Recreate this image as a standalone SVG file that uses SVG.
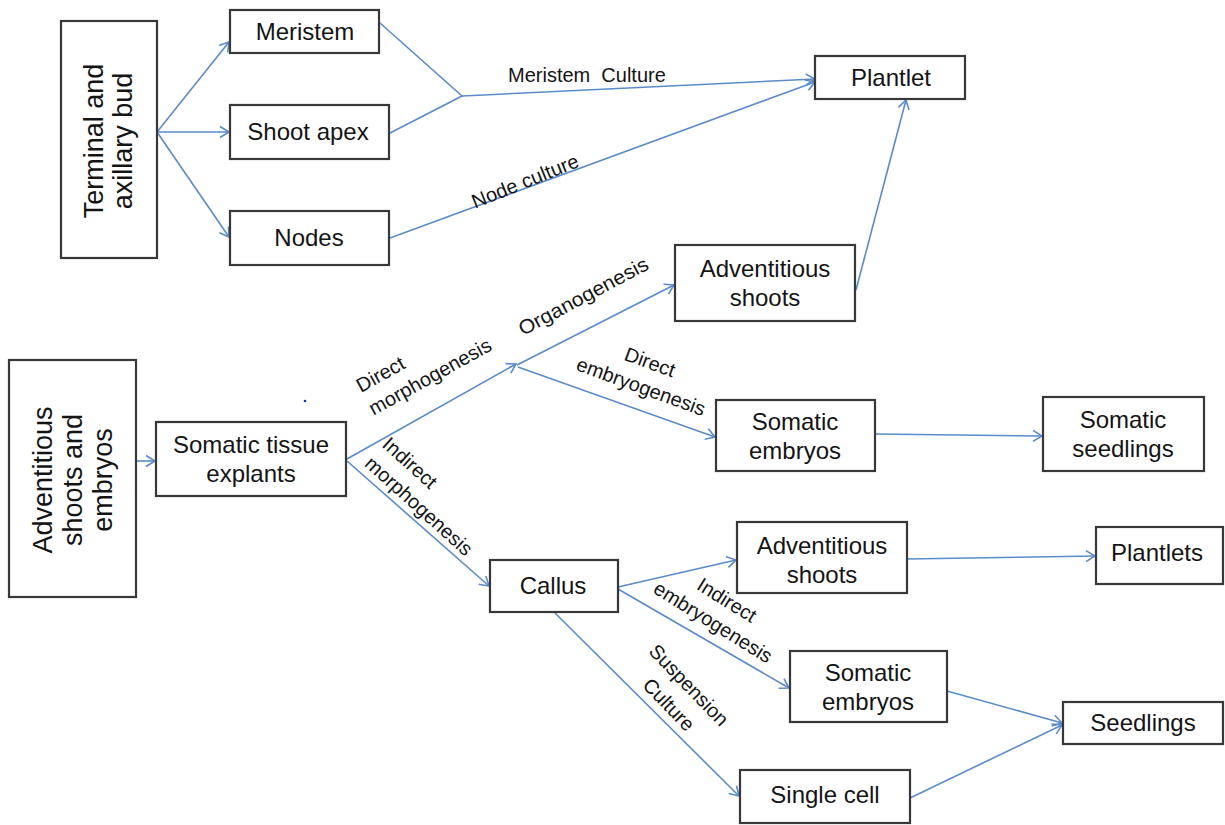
<svg xmlns="http://www.w3.org/2000/svg" width="1225" height="825" viewBox="0 0 1225 825">
<style>
.box{fill:#ffffff;stroke:#383838;stroke-width:2.2}
.t{font-family:"Liberation Sans",Arial,sans-serif;font-size:24px;fill:#141414;text-anchor:middle}
.v{font-family:"Liberation Sans",Arial,sans-serif;font-size:27px;fill:#141414;text-anchor:middle}
.l{font-family:"Liberation Sans",Arial,sans-serif;font-size:20px;fill:#141414}
.c{text-anchor:middle}
.e{fill:none;stroke:#5b8bc8;stroke-width:1.6}
</style>
<defs>
<marker id="a" markerUnits="userSpaceOnUse" markerWidth="14" markerHeight="14" refX="11" refY="7" orient="auto">
<path d="M2,1.5 L11,7 L2,12.5" fill="none" stroke="#5b8bc8" stroke-width="1.6"/>
</marker>
</defs>
<rect width="1225" height="825" fill="#ffffff"/>

<g id="connectors">
<line class="e" x1="157" y1="132" x2="229" y2="42" marker-end="url(#a)"/>
<line class="e" x1="157" y1="132" x2="229" y2="132" marker-end="url(#a)"/>
<line class="e" x1="157" y1="132" x2="229" y2="237" marker-end="url(#a)"/>
<polyline class="e" points="380,23 462,96 390,133"/>
<line class="e" x1="462" y1="96" x2="815" y2="79" marker-end="url(#a)"/>
<line class="e" x1="390" y1="238" x2="815" y2="82" marker-end="url(#a)"/>
<line class="e" x1="856" y1="290" x2="906" y2="100" marker-end="url(#a)"/>
<line class="e" x1="136" y1="461" x2="155" y2="461" marker-end="url(#a)"/>
<line class="e" x1="347" y1="459" x2="516" y2="364" marker-end="url(#a)"/>
<line class="e" x1="517" y1="365" x2="674" y2="285" marker-end="url(#a)"/>
<line class="e" x1="518" y1="367" x2="715" y2="437" marker-end="url(#a)"/>
<line class="e" x1="876" y1="434" x2="1042" y2="436" marker-end="url(#a)"/>
<line class="e" x1="347" y1="461" x2="489" y2="586" marker-end="url(#a)"/>
<line class="e" x1="618" y1="587" x2="736" y2="560" marker-end="url(#a)"/>
<line class="e" x1="618" y1="589" x2="789" y2="688" marker-end="url(#a)"/>
<line class="e" x1="555" y1="613" x2="739" y2="796" marker-end="url(#a)"/>
<line class="e" x1="907" y1="559" x2="1095" y2="556" marker-end="url(#a)"/>
<line class="e" x1="947" y1="691" x2="1062" y2="723" marker-end="url(#a)"/>
<line class="e" x1="910" y1="798" x2="1062" y2="725" marker-end="url(#a)"/>
</g>

<g id="labels">
<text class="l" x="508" y="82" xml:space="preserve">Meristem  Culture</text>
<g transform="translate(525,181) rotate(-22)"><text class="l c" x="0" y="7">Node culture</text></g>
<g transform="translate(361,393) rotate(-29)"><text class="l" x="0" y="0">Direct</text><text class="l" x="0" y="26">morphogenesis</text></g>
<g transform="translate(523,336) rotate(-28)"><text class="l" x="0" y="0" textLength="144" lengthAdjust="spacingAndGlyphs">Organogenesis</text></g>
<g transform="translate(650,362) rotate(20)"><text class="l c" x="0" y="7">Direct</text><text class="l c" x="0" y="33">embryogenesis</text></g>
<g transform="translate(381,446) rotate(42)"><text class="l" x="0" y="0">Indirect</text><text class="l" x="0" y="26">morphogenesis</text></g>
<g transform="translate(727,600) rotate(32)"><text class="l c" x="0" y="7">Indirect</text><text class="l c" x="0" y="33">embryogenesis</text></g>
<g transform="translate(689,685) rotate(46)"><text class="l c" x="0" y="7">Suspension</text><text class="l c" x="0" y="35">Culture</text></g>
</g>

<circle cx="305" cy="401" r="1.3" fill="#2030c0"/>

<g id="n-terminal">
<rect class="box" x="61" y="21" width="96" height="237"/>
<g transform="translate(0,141) rotate(-90)"><text class="v" x="0" y="103">Terminal and</text><text class="v" x="0" y="132">axillary bud</text></g>
</g>
<g id="n-meristem"><rect class="box" x="230" y="10" width="149" height="43"/><text class="t" x="305" y="40">Meristem</text></g>
<g id="n-shootapex"><rect class="box" x="230" y="105" width="159" height="54"/><text class="t" x="308" y="140">Shoot apex</text></g>
<g id="n-nodes"><rect class="box" x="230" y="211" width="159" height="54"/><text class="t" x="309" y="246">Nodes</text></g>
<g id="n-plantlet"><rect class="box" x="815" y="56" width="150" height="43"/><text class="t" x="891" y="86">Plantlet</text></g>
<g id="n-advshoots1"><rect class="box" x="675" y="245" width="180" height="76"/><text class="t" x="765" y="277">Adventitious</text><text class="t" x="765" y="306">shoots</text></g>
<g id="n-advembryos">
<rect class="box" x="9" y="360" width="127" height="237"/>
<g transform="translate(0,480) rotate(-90)"><text class="v" x="0" y="52">Adventitious</text><text class="v" x="0" y="82">shoots and</text><text class="v" x="0" y="112">embryos</text></g>
</g>
<g id="n-somatictissue"><rect class="box" x="156" y="422" width="190" height="74"/><text class="t" x="251" y="453">Somatic tissue</text><text class="t" x="251" y="482">explants</text></g>
<g id="n-somaticembryos1"><rect class="box" x="716" y="400" width="159" height="71"/><text class="t" x="795" y="430">Somatic</text><text class="t" x="795" y="459">embryos</text></g>
<g id="n-somaticseedlings"><rect class="box" x="1043" y="397" width="161" height="74"/><text class="t" x="1123" y="428">Somatic</text><text class="t" x="1123" y="457">seedlings</text></g>
<g id="n-callus"><rect class="box" x="490" y="560" width="128" height="52"/><text class="t" x="553" y="594">Callus</text></g>
<g id="n-advshoots2"><rect class="box" x="737" y="522" width="170" height="71"/><text class="t" x="822" y="554">Adventitious</text><text class="t" x="822" y="583">shoots</text></g>
<g id="n-plantlets"><rect class="box" x="1096" y="527" width="127" height="57"/><text class="t" x="1157" y="561">Plantlets</text></g>
<g id="n-somaticembryos2"><rect class="box" x="790" y="651" width="157" height="71"/><text class="t" x="868" y="681">Somatic</text><text class="t" x="868" y="710">embryos</text></g>
<g id="n-seedlings"><rect class="box" x="1063" y="702" width="160" height="42"/><text class="t" x="1143" y="731">Seedlings</text></g>
<g id="n-singlecell"><rect class="box" x="740" y="770" width="170" height="53"/><text class="t" x="825" y="803">Single cell</text></g>
</svg>
